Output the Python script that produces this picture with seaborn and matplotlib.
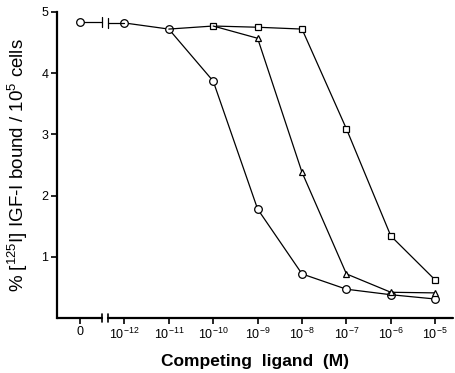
import numpy as np
import pandas as pd
import seaborn as sns
import matplotlib.pyplot as plt
import matplotlib.transforms as mtransforms

sns.set_theme(style="ticks")
plt.rcParams["font.family"] = ["Liberation Sans", "DejaVu Sans"]
plt.rcParams["mathtext.default"] = "regular"
plt.rcParams["text.color"] = "black"
plt.rcParams["axes.labelcolor"] = "black"
plt.rcParams["xtick.color"] = "black"
plt.rcParams["ytick.color"] = "black"

### data (x = tick position: 0, then 10^-12 ... 10^-5)
tick_labels = ["0", "10$^{-12}$", "10$^{-11}$", "10$^{-10}$", "10$^{-9}$",
               "10$^{-8}$", "10$^{-7}$", "10$^{-6}$", "10$^{-5}$"]

circle_x = [0, 1, 2, 3, 4, 5, 6, 7, 8]
circle_y = [4.83, 4.82, 4.72, 3.87, 1.78, 0.72, 0.47, 0.38, 0.31]

# square curve leaves the common curve at 10^-11
square_x = [2, 3, 4, 5, 6, 7, 8]
square_y = [4.72, 4.77, 4.75, 4.72, 3.09, 1.34, 0.62]

# triangle curve leaves the square curve at 10^-10
triangle_x = [3, 4, 5, 6, 7, 8]
triangle_y = [4.77, 4.57, 2.38, 0.72, 0.42, 0.41]

break_lo, break_hi = 0.5, 0.63

### plot
fig = plt.figure(figsize=(4.55, 3.73), dpi=100)
ax = fig.add_axes([0.125, 0.1475, 0.8706, 0.8205])

line_kw = dict(color="black", linewidth=0.9, markerfacecolor="white",
               markeredgecolor="black", markeredgewidth=0.9, clip_on=False)

df_c = pd.DataFrame({"x": circle_x[1:], "y": circle_y[1:]})
sns.lineplot(data=df_c, x="x", y="y", marker="o", markersize=5.5, ax=ax, **line_kw)

df_s = pd.DataFrame({"x": square_x, "y": square_y})
sns.lineplot(data=df_s, x="x", y="y", marker="s", markersize=4.6,
             markevery=list(range(1, len(square_x))), ax=ax, **line_kw)

df_t = pd.DataFrame({"x": triangle_x, "y": triangle_y})
sns.lineplot(data=df_t, x="x", y="y", marker="^", markersize=5,
             markevery=list(range(1, len(triangle_x))), ax=ax, **line_kw)

# point at zero concentration, joined across the axis break
ax.plot([circle_x[0], break_lo], [circle_y[0], circle_y[0]], color="black", lw=0.9)
ax.plot([break_hi, circle_x[1]], [circle_y[1], circle_y[1]], color="black", lw=0.9)
for bx, by in [(break_lo, circle_y[0]), (break_hi, circle_y[1])]:
    ax.plot([bx, bx], [by - 0.08, by + 0.08], color="black", lw=0.9)
ax.plot(circle_x[0], circle_y[0], marker="o", markersize=5.5, color="black",
        markerfacecolor="white", markeredgewidth=0.9, zorder=5)

ax.set_xlim(-0.52, 8.4)
ax.set_ylim(0, 5)

# broken x axis
ax.spines["bottom"].set_visible(False)
ax.spines["top"].set_visible(False)
ax.spines["right"].set_visible(False)
ax.spines["left"].set_linewidth(1.6)
ax.spines["left"].set_color("black")
trans = mtransforms.blended_transform_factory(ax.transData, ax.transAxes)
ax.plot([-0.52, break_lo], [0, 0], color="black", lw=1.6, transform=trans, clip_on=False)
ax.plot([break_hi, 8.4], [0, 0], color="black", lw=1.6, transform=trans, clip_on=False)
for bx in [break_lo, break_hi]:
    ax.plot([bx, bx], [-0.012, 0.012], color="black", lw=1.2, transform=trans, clip_on=False)

ax.set_xticks(range(len(tick_labels)))
ax.set_xticklabels(tick_labels, fontsize=9)
ax.set_yticks([1, 2, 3, 4, 5])
ax.set_yticklabels(["1", "2", "3", "4", "5"], fontsize=9)
ax.tick_params(axis="both", direction="out", length=4, width=1.2, color="black", pad=2)

ax.set_xlabel("Competing  ligand  (M)", fontsize=12.5, fontweight="bold", labelpad=9)
ax.set_ylabel("% [$^{125}$I] IGF-I bound / 10$^{5}$ cells", fontsize=13.5, labelpad=8)

fig.savefig("out.png", dpi=100)
